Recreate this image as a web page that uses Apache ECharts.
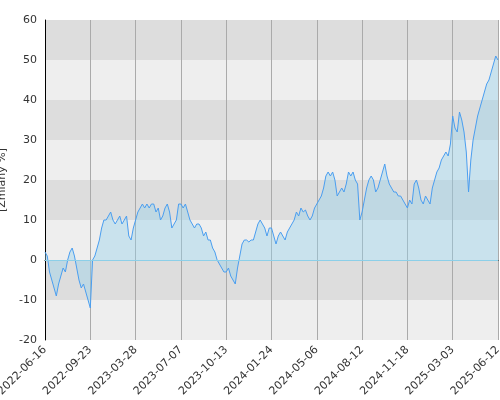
<!DOCTYPE html>
<html>
<head>
<meta charset="utf-8">
<script src="https://cdn.jsdelivr.net/npm/echarts@6/dist/echarts.min.js"></script>
<style>html,body{margin:0;padding:0;background:#fff}#chart{width:500px;height:400px}</style>
</head>
<body>
<div id="chart"></div>
<script>
var tickLabels = ['2022-06-16', '2022-09-23', '2023-03-28', '2023-07-07', '2023-10-13', '2024-01-24',
    '2024-05-06', '2024-08-12', '2024-11-18', '2025-03-03', '2025-06-12'];
var values = [
    2, 1, -3, -5, -7, -9, -6, -4, -2, -3, 0, 2, 3, 1, -2, -5, -7, -6, -8, -10,
    -12, 0, 1, 3, 5, 8, 10, 10, 11, 12, 10, 9, 10, 11, 9, 10, 11, 6, 5, 8,
    10, 12, 13, 14, 13, 14, 13, 14, 14, 12, 13, 10, 11, 13, 14, 12, 8, 9, 10, 14,
    14, 13, 14, 12, 10, 9, 8, 9, 9, 8, 6, 7, 5, 5, 3, 2, 0, -1, -2, -3,
    -3, -2, -4, -5, -6, -2, 1, 4, 5, 5, 4.5, 5, 5, 7, 9, 10, 9, 8, 6, 8,
    8, 6, 4, 6, 7, 6, 5, 7, 8, 9, 10, 12, 11, 13, 12, 12.5, 11, 10, 11, 13,
    14, 15, 16, 18, 21, 22, 21, 22, 20, 16, 17, 18, 17, 19, 22, 21, 22, 20, 19, 10,
    12, 15, 18, 20, 21, 20, 17, 18, 20, 22, 24, 21, 19, 18, 17, 17, 16, 16, 15, 14,
    13, 15, 14, 19, 20, 18, 15, 14, 16, 15, 14, 18, 20, 22, 23, 25, 26, 27, 26, 29,
    36, 33, 32, 37, 35, 32, 27, 17, 25, 30, 33, 36, 38, 40, 42, 44, 45, 47, 49, 51,
    50
];
var step = 20;
var categories = values.map(function (v, i) { return String(i); });

var myChart = echarts.init(document.getElementById('chart'));
var option = {
    animation: false,
    grid: { left: 45, right: 2, top: 20, bottom: 60, containLabel: false, outerBoundsMode: 'none' },
    xAxis: {
        type: 'category',
        data: categories,
        boundaryGap: false,
        axisLine: { lineStyle: { color: '#000' } },
        axisTick: { show: false },
        axisLabel: {
            interval: step - 1,
            rotate: 45,
            color: '#333',
            fontSize: 11,
            fontFamily: 'DejaVu Sans',
            formatter: function (v, idx) { return tickLabels[idx / step] || ''; }
        },
        splitLine: { show: true, interval: step - 1, lineStyle: { color: '#aaa' } }
    },
    yAxis: {
        type: 'value',
        min: -20, max: 60, interval: 10,
        name: '[Zmiany %]',
        nameLocation: 'middle',
        nameGap: 30,
        nameTextStyle: { color: '#333', fontSize: 11, fontFamily: 'DejaVu Sans' },
        axisLine: { show: true, lineStyle: { color: '#000' } },
        axisTick: { show: false },
        axisLabel: { color: '#333', fontSize: 11, fontFamily: 'DejaVu Sans' },
        splitLine: { show: false },
        splitArea: { show: true, areaStyle: { color: ['#eeeeee', '#dddddd'] } }
    },
    series: [{
        type: 'line',
        data: values,
        symbol: 'none',
        lineStyle: { color: '#4a9ef0', width: 1 },
        areaStyle: { color: 'rgba(150,210,235,0.6)', origin: 0 },
        markLine: {
            silent: true, symbol: 'none', label: { show: false },
            lineStyle: { color: '#8ccfe8', type: 'solid', width: 1 },
            data: [{ yAxis: 0 }]
        }
    }]
};
myChart.setOption(option);
</script>
</body>
</html>
